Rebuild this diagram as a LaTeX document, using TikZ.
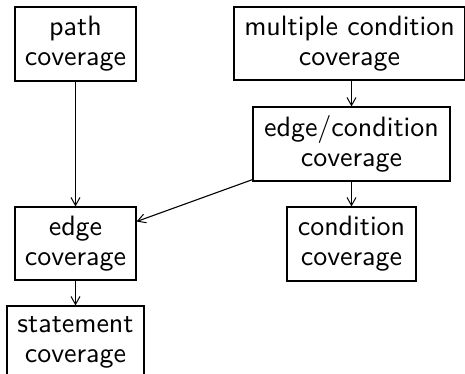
\documentclass[tikz,border=0pt]{standalone}
\usepackage{fontspec}
\newfontfamily\lmsx{lmsans10-regular.otf}
\usetikzlibrary{arrows.meta}
\begin{document}
\begin{tikzpicture}[x=1pt,y=-1pt,
  box/.style={draw,line width=1.1pt,inner sep=0pt,align=center,
    font=\lmsx\fontsize{28}{30}\selectfont},
  arr/.style={line width=1.1pt,-{Straight Barb[length=8pt,width=9pt,line width=1pt]}}]
\useasboundingbox (0,0) rectangle (465,374);
\node[box,minimum width=121pt,minimum height=74pt] (path) at (75.5,44) {path\\coverage};
\node[box,minimum width=231pt,minimum height=73pt] (mult) at (349.5,43.5) {multiple condition\\coverage};
\node[box,minimum width=197pt,minimum height=74pt] (edcond) at (351.5,144) {edge/condition\\coverage};
\node[box,minimum width=121pt,minimum height=73pt] (edge) at (75.5,243.5) {edge\\coverage};
\node[box,minimum width=129pt,minimum height=74pt] (cond) at (351.5,244) {condition\\coverage};
\node[box,minimum width=137pt,minimum height=73pt] (stmt) at (75.5,342.5) {statement\\coverage};
\draw[arr] (path) -- (edge);
\draw[arr] (mult.south -| edcond) -- (edcond);
\draw[arr] (edcond) -- (cond);
\draw[arr] (edcond) -- (edge);
\draw[arr] (edge) -- (stmt);
\end{tikzpicture}
\end{document}
